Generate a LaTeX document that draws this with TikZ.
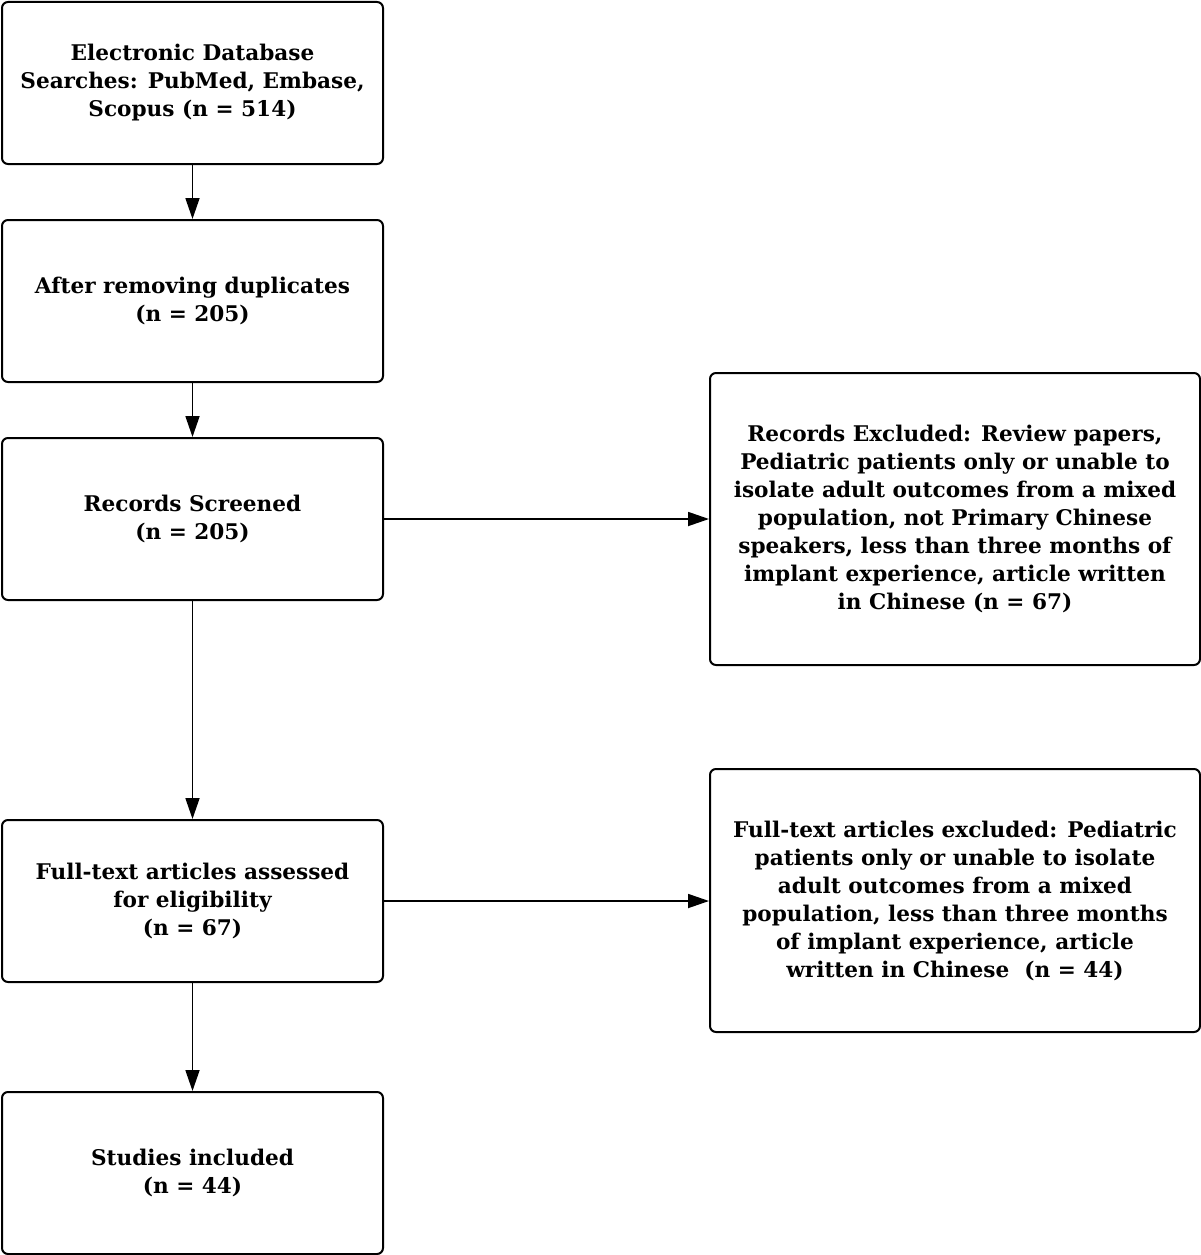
\documentclass[tikz,border=0pt]{standalone}
\usepackage{fontspec}
\setmainfont{DejaVu Serif}
\usetikzlibrary{arrows.meta}
\tikzset{
  box/.style={draw=black, line width=2pt, rounded corners=6pt, align=center,
    font=\bfseries\fontsize{21.6}{28}\selectfont, inner sep=0pt, anchor=north west},
  arr/.style={line width=1.8pt, -{Triangle[length=21pt,width=14pt]}}
}
\begin{document}
\begin{tikzpicture}[x=1pt,y=-1pt]
\useasboundingbox (0,0) rectangle (1200,1255);
\node[box, minimum width=381pt, minimum height=162pt] (b1) at (1,1)
  {Electronic Database\\Searches: PubMed, Embase,\\Scopus (n = 514)};
\node[box, minimum width=381pt, minimum height=162pt] (b2) at (1,219)
  {After removing duplicates\\(n = 205)};
\node[box, minimum width=381pt, minimum height=162pt] (b3) at (1,437)
  {Records Screened\\(n = 205)};
\node[box, minimum width=381pt, minimum height=162pt] (b4) at (1,819)
  {Full-text articles assessed\\for eligibility\\(n = 67)};
\node[box, minimum width=381pt, minimum height=162pt] (b5) at (1,1091)
  {Studies included\\(n = 44)};
\node[box, minimum width=490pt, minimum height=292pt] (ra) at (709,372)
  {Records Excluded: Review papers,\\Pediatric patients only or unable to\\isolate adult outcomes from a mixed\\population, not Primary Chinese\\speakers, less than three months of\\implant experience, article written\\in Chinese (n = 67)};
\node[box, minimum width=490pt, minimum height=263pt] (rb) at (709,768)
  {Full-text articles excluded: Pediatric\\patients only or unable to isolate\\adult outcomes from a mixed\\population, less than three months\\of implant experience, article\\written in Chinese\ \ (n = 44)};
\draw[arr] (b1) -- (b2);
\draw[arr] (b2) -- (b3);
\draw[arr] (b3) -- (b4);
\draw[arr] (b4) -- (b5);
\draw[arr] (b3.east) -- (b3.east -| ra.west);
\draw[arr] (b4.east) -- (b4.east -| rb.west);
\end{tikzpicture}
\end{document}
